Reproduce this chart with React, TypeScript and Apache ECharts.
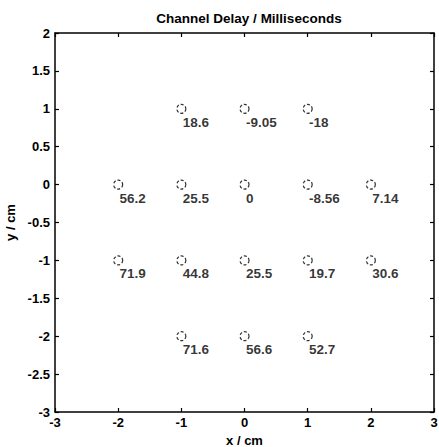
import React, { useEffect, useRef } from "react";
import * as echarts from "echarts";

const xs = [-1, 0, 1, -2, -1, 0, 1, 2, -2, -1, 0, 1, 2, -1, 0, 1];
const ys = [1, 1, 1, 0, 0, 0, 0, 0, -1, -1, -1, -1, -1, -2, -2, -2];
const delays = ["18.6", "-9.05", "-18", "56.2", "25.5", "0", "-8.56", "7.14", "71.9", "44.8", "25.5", "19.7", "30.6", "71.6", "56.6", "52.7"];

const titleText = "Channel Delay / Milliseconds";
const xName = "x / cm";
const yName = "y / cm";

export default function App() {
  const ref = useRef<HTMLDivElement>(null);
  useEffect(() => {
    document.body.style.margin = "0";
    const chart = echarts.init(ref.current!, null, { renderer: "svg" });
    const font = "'Liberation Sans', Arial, sans-serif";
    const axisLine = { show: true, onZero: false, lineStyle: { color: "#000", width: 1.5 } };
    const tick = { show: true, inside: true, length: 4, lineStyle: { color: "#000", width: 1.2 } };
    const data = xs.map((x, i) => [x, ys[i], delays[i]]);
    chart.setOption({
      animation: false,
      backgroundColor: "#fff",
      title: {
        text: titleText,
        left: 244,
        top: 6,
        textAlign: "center",
        textStyle: { fontFamily: font, fontWeight: "bold", fontSize: 13.5, color: "#000" },
      },
      grid: { left: 55, right: 5, top: 33, bottom: 35, outerBoundsMode: "none", containLabel: false },
      xAxis: [
        {
          type: "value", min: -3, max: 3, interval: 1, position: "bottom",
          name: xName, nameLocation: "middle", nameGap: 19,
          nameTextStyle: { fontFamily: font, fontWeight: "bold", fontSize: 13, color: "#000" },
          axisLine, axisTick: tick, splitLine: { show: false },
          axisLabel: { fontFamily: font, fontWeight: "bold", fontSize: 13, color: "#000", margin: 4 },
        },
        {
          type: "value", min: -3, max: 3, interval: 1, position: "top",
          axisLine, axisTick: tick, splitLine: { show: false }, axisLabel: { show: false },
        },
      ],
      yAxis: [
        {
          type: "value", min: -3, max: 2, interval: 0.5, position: "left",
          name: yName, nameLocation: "middle", nameGap: 38, nameRotate: 90,
          nameTextStyle: { fontFamily: font, fontWeight: "bold", fontSize: 13, color: "#000" },
          axisLine, axisTick: tick, splitLine: { show: false },
          axisLabel: { fontFamily: font, fontWeight: "bold", fontSize: 13, color: "#000", margin: 5 },
        },
        {
          type: "value", min: -3, max: 2, interval: 0.5, position: "right",
          axisLine, axisTick: tick, splitLine: { show: false }, axisLabel: { show: false },
        },
      ],
      series: [
        {
          type: "scatter",
          data,
          symbol: "circle",
          symbolSize: 9,
          itemStyle: { color: "rgba(0,0,0,0)", borderColor: "#000", borderWidth: 1.2, borderType: [3, 2] },
          label: {
            show: true,
            position: [6.5, 18.5],
            align: "left",
            verticalAlign: "middle",
            formatter: (p: any) => p.value[2],
            fontFamily: font, fontWeight: "bold", fontSize: 13.5, color: "#000",
          },
          emphasis: { disabled: true },
        },
      ],
    });
    return () => chart.dispose();
  }, []);
  return <div ref={ref} style={{ width: 439, height: 447 }} />;
}
